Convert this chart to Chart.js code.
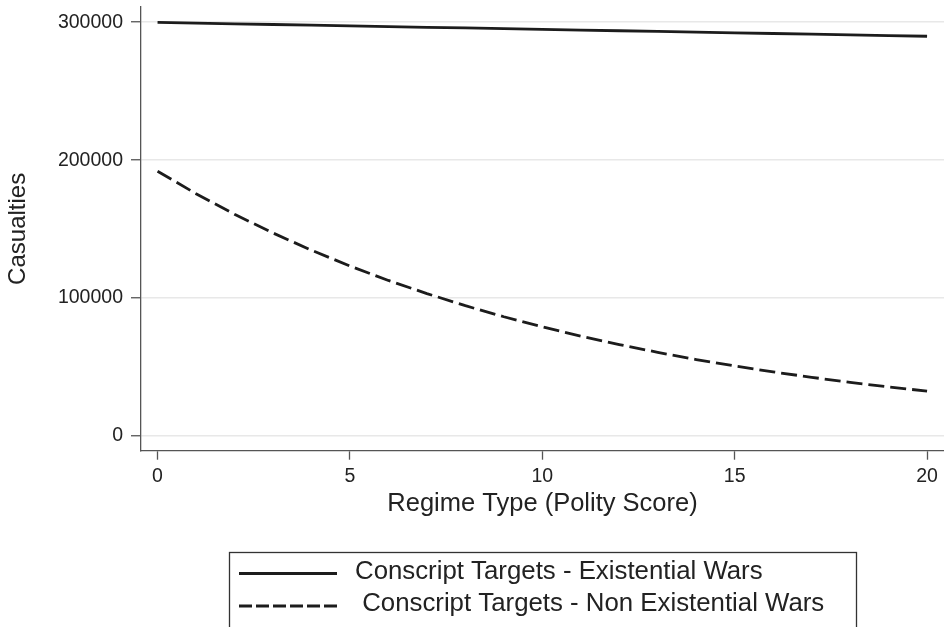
<!DOCTYPE html>
<html>
<head>
<meta charset="utf-8">
<script src="https://cdn.jsdelivr.net/npm/chart.js@4"></script>
<style>
  html, body { margin: 0; padding: 0; background: #fff; }
  #wrap { width: 944px; height: 627px; position: relative; }
</style>
</head>
<body>
<div id="wrap"><canvas id="casualtiesChart"></canvas></div>
<script>
// Predicted casualties by regime type
const polity = [0, 1, 2, 3, 4, 5, 6, 7, 8, 9, 10, 11, 12, 13, 14, 15, 16, 17, 18, 19, 20];
const existential = [299800, 299300, 298800, 298300, 297800, 297300, 296800, 296300, 295800, 295300,
                     294800, 294300, 293800, 293300, 292800, 292300, 291800, 291300, 290800, 290300, 289800];
const nonExistential = [192000, 175700, 160800, 147200, 134700, 123300, 112800, 103300, 94500, 86500,
                        79200, 72400, 66300, 60700, 55500, 50800, 46500, 42600, 38900, 35600, 32600];
const seriesLabels = ['Conscript Targets - Existential Wars', ' Conscript Targets - Non Existential Wars'];
const xTicks = [0, 5, 10, 15, 20];
const yTicks = [0, 100000, 200000, 300000];

const FONT = '"Liberation Sans", Arial, Helvetica, sans-serif';
const TEXT = '#222';
const AXIS = '#555';

function points(ys) {
    return polity.map((x, i) => ({ x: x, y: ys[i] }));
}

// Framed legend under the plot
const legendBox = {
    id: 'legendBox',
    afterDraw(chart) {
        const ctx = chart.ctx;
        ctx.save();
        ctx.strokeStyle = '#333';
        ctx.lineWidth = 1.3;
        ctx.setLineDash([]);
        ctx.strokeRect(229.5, 552.5, 627, 90);
        ctx.font = '25.8px ' + FONT;
        ctx.fillStyle = TEXT;
        ctx.textBaseline = 'alphabetic';
        chart.data.datasets.forEach(function(ds, i) {
            const y = 573.5 + i * 32.5;
            ctx.strokeStyle = ds.borderColor;
            ctx.lineWidth = ds.borderWidth;
            ctx.setLineDash(ds.borderDash ? [13, 4] : []);
            ctx.beginPath();
            ctx.moveTo(239, y);
            ctx.lineTo(337, y);
            ctx.stroke();
            ctx.fillText(ds.label, 355, y + 5);
        });
        ctx.restore();
    }
};

const ctx = document.getElementById('casualtiesChart');
new Chart(ctx, {
    type: 'line',
    data: {
        datasets: [{
            label: seriesLabels[0],
            data: points(existential),
            borderColor: '#1c1c1c',
            borderWidth: 2.8,
            pointRadius: 0,
            fill: false
        }, {
            label: seriesLabels[1],
            data: points(nonExistential),
            borderColor: '#1c1c1c',
            borderWidth: 2.8,
            borderDash: [16, 6],
            pointRadius: 0,
            fill: false
        }]
    },
    options: {
        responsive: true,
        maintainAspectRatio: false,
        animation: false,
        layout: {
            padding: { top: 7, right: 0, bottom: 107.6, left: 0 }
        },
        plugins: {
            legend: { display: false },
            tooltip: { enabled: false }
        },
        scales: {
            x: {
                type: 'linear',
                min: -0.43,
                max: 20.44,
                afterBuildTicks: function(scale) {
                    scale.ticks = xTicks.map(v => ({ value: v }));
                },
                afterFit: function(scale) {
                    scale.height = 68.7;
                    scale.paddingLeft = 0;
                    scale.paddingRight = 0;
                },
                border: { display: true, color: AXIS, width: 1.3 },
                grid: {
                    drawOnChartArea: false,
                    drawTicks: true,
                    tickLength: 9,
                    tickColor: AXIS,
                    tickWidth: 1.3
                },
                ticks: {
                    padding: 5,
                    color: TEXT,
                    maxRotation: 0,
                    font: { family: FONT, size: 19.5 },
                    callback: function(value) { return String(value); }
                },
                title: {
                    display: true,
                    text: 'Regime Type (Polity Score)',
                    color: TEXT,
                    padding: { top: 0, bottom: 0 },
                    font: { family: FONT, size: 25.5 }
                }
            },
            y: {
                min: -10600,
                max: 311000,
                afterBuildTicks: function(scale) {
                    scale.ticks = yTicks.map(v => ({ value: v }));
                },
                afterFit: function(scale) {
                    scale.width = 141;
                    scale.paddingTop = 0;
                    scale.paddingBottom = 0;
                },
                border: { display: true, color: AXIS, width: 1.3 },
                grid: {
                    color: '#e8e8e8',
                    lineWidth: 1.5,
                    drawTicks: true,
                    tickLength: 10,
                    tickColor: AXIS,
                    tickWidth: 1.3
                },
                ticks: {
                    padding: 8,
                    color: TEXT,
                    font: { family: FONT, size: 19.5 },
                    callback: function(value) { return String(value); }
                },
                title: {
                    display: true,
                    text: 'Casualties',
                    color: TEXT,
                    padding: { top: 4, bottom: 0 },
                    font: { family: FONT, size: 24 }
                }
            }
        }
    },
    plugins: [legendBox]
});
</script>
</body>
</html>
